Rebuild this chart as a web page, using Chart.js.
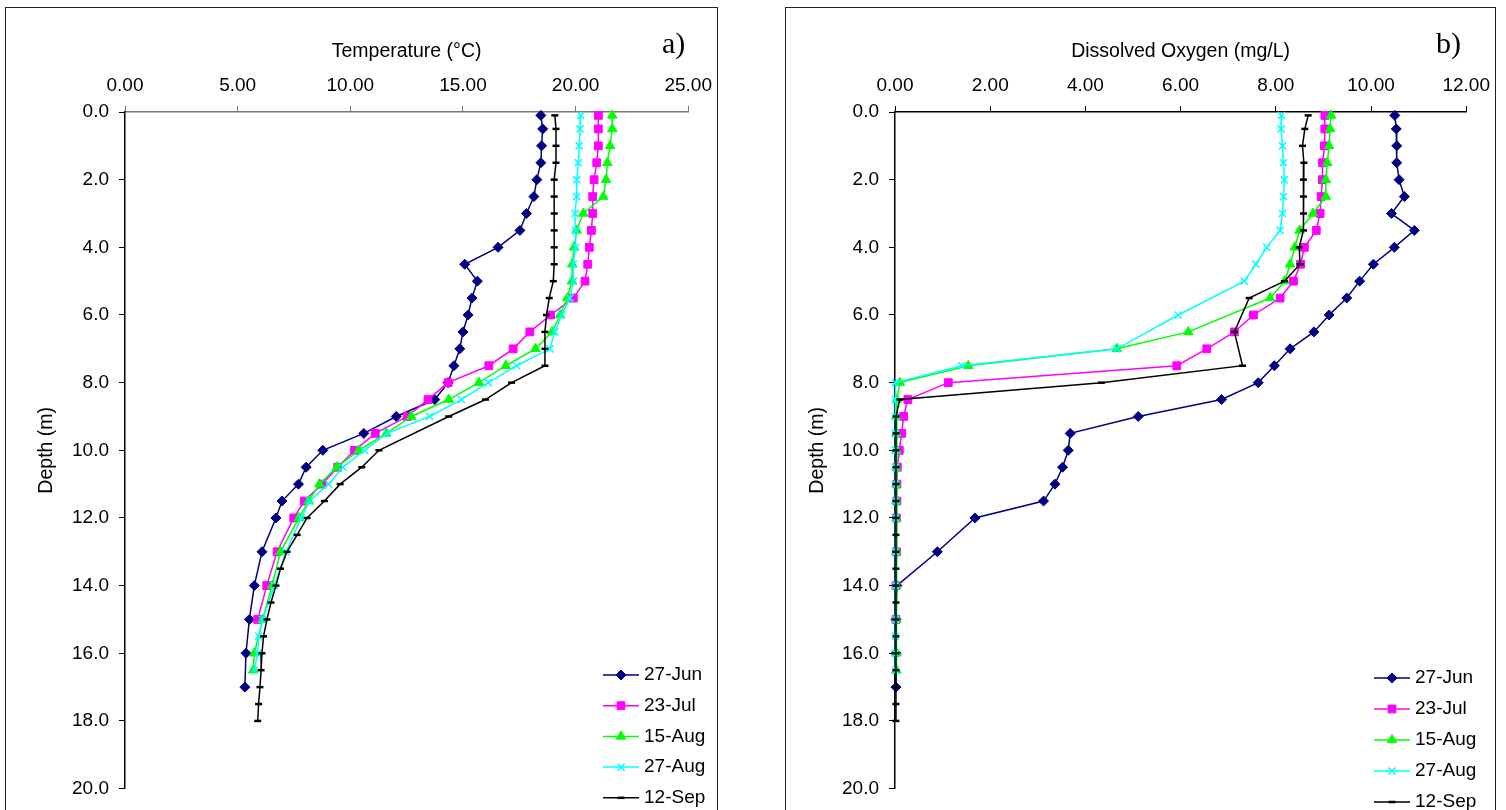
<!DOCTYPE html>
<html>
<head>
<meta charset="utf-8">
<script src="https://cdn.jsdelivr.net/npm/chart.js@4.4.1/dist/chart.umd.min.js"></script>
<style>
body { margin: 0; background: #fff; width: 1506px; height: 810px; overflow: hidden; position: relative; }
.box { position: absolute; top: 7px; height: 840px; border: 1.5px solid #222; box-sizing: border-box; }
#boxA { left: 5px; width: 713px; }
#boxB { left: 785px; width: 711px; }
canvas { position: absolute; top: 8px; }
#tempChart { left: 6px; }
#oxyChart { left: 786px; }
.tag { position: absolute; top: 26px; font-family: "Liberation Serif", "Times New Roman", serif; font-size: 30px; }
</style>
</head>
<body>
<div class="box" id="boxA"></div>
<div class="box" id="boxB"></div>
<canvas id="tempChart" width="715" height="802"></canvas>
<canvas id="oxyChart" width="713" height="802"></canvas>
<div class="tag" style="left:662px">a)</div>
<div class="tag" style="left:1436px">b)</div>
<script>
// ---- series names
var labels = ["27-Jun", "23-Jul", "15-Aug", "27-Aug", "12-Sep"];

// ---- a) Temperature (°C) profiles
var depthJunT = [0.1, 0.5, 1, 1.5, 2, 2.5, 3, 3.5, 4, 4.5, 5, 5.5, 6, 6.5, 7, 7.5, 8, 8.5, 9, 9.5, 10, 10.5, 11, 11.5, 12, 13, 14, 15, 16, 17];
var tempJun = [18.46, 18.54, 18.49, 18.46, 18.28, 18.15, 17.82, 17.53, 16.56, 15.08, 15.64, 15.4, 15.23, 15.0, 14.86, 14.6, 14.34, 13.75, 12.04, 10.6, 8.78, 8.04, 7.7, 6.97, 6.7, 6.08, 5.74, 5.52, 5.37, 5.32];

var depthJulT = [0.1, 0.5, 1, 1.5, 2, 2.5, 3, 3.5, 4, 4.5, 5, 5.5, 6, 6.5, 7, 7.5, 8, 8.5, 9, 9.5, 10, 10.5, 11, 11.5, 12, 13, 14, 15];
var tempJul = [21.01, 21.01, 21.01, 20.94, 20.82, 20.76, 20.76, 20.7, 20.61, 20.54, 20.42, 19.9, 18.89, 17.97, 17.23, 16.15, 14.34, 13.45, 12.53, 11.11, 10.19, 9.44, 8.75, 7.96, 7.49, 6.75, 6.29, 5.89];

var depthAug15T = [0.1, 0.5, 1, 1.5, 2, 2.5, 3, 3.5, 4, 4.5, 5, 5.5, 6, 6.5, 7, 7.5, 8, 8.5, 9, 9.5, 10, 10.5, 11, 11.5, 12, 13, 14, 15, 16, 16.5];
var tempAug15 = [21.63, 21.63, 21.53, 21.41, 21.35, 21.23, 20.34, 20.05, 19.93, 19.85, 19.84, 19.63, 19.31, 18.96, 18.22, 16.9, 15.71, 14.37, 12.71, 11.6, 10.38, 9.4, 8.63, 8.15, 7.72, 6.9, 6.53, 6.11, 5.74, 5.69];

var depthAug27T = [0.1, 0.5, 1, 1.5, 2, 2.5, 3, 3.5, 4, 4.5, 5, 5.5, 6, 6.5, 7, 7.5, 8, 8.5, 9, 9.5, 10, 10.5, 11, 11.5, 12, 13, 14, 15, 15.5, 16, 16.5];
var tempAug27 = [20.23, 20.2, 20.16, 20.12, 20.05, 20.05, 19.97, 20.0, 20.0, 19.9, 19.9, 19.75, 19.38, 19.08, 18.86, 17.38, 16.12, 14.93, 13.52, 11.62, 10.63, 9.67, 9.04, 8.19, 7.82, 7.15, 6.63, 6.11, 5.93, 5.89, 5.74];

var depthSepT = [0.1, 0.5, 1, 1.5, 2, 2.5, 3, 3.5, 4, 4.5, 5, 5.5, 6, 6.5, 7, 7.5, 8, 8.5, 9, 10, 10.5, 11, 11.5, 12, 12.5, 13, 13.5, 14, 14.5, 15, 15.5, 16, 16.5, 17, 17.5, 18];
var tempSep = [19.08, 19.13, 19.13, 19.13, 19.05, 19.05, 19.05, 19.05, 19.05, 19.05, 19.01, 18.83, 18.71, 18.64, 18.64, 18.64, 17.16, 16.0, 14.37, 11.27, 10.51, 9.55, 8.85, 8.08, 7.64, 7.19, 6.9, 6.7, 6.48, 6.3, 6.15, 6.08, 6.04, 5.99, 5.93, 5.89];

// ---- b) Dissolved Oxygen (mg/L) profiles
var depthJunO = [0.1, 0.5, 1, 1.5, 2, 2.5, 3, 3.5, 4, 4.5, 5, 5.5, 6, 6.5, 7, 7.5, 8, 8.5, 9, 9.5, 10, 10.5, 11, 11.5, 12, 13, 14, 15, 16, 17];
var oxyJun = [10.5, 10.53, 10.54, 10.54, 10.59, 10.7, 10.43, 10.91, 10.49, 10.05, 9.76, 9.49, 9.12, 8.8, 8.3, 7.97, 7.63, 6.86, 5.11, 3.68, 3.64, 3.52, 3.36, 3.12, 1.68, 0.89, 0.04, 0.02, 0.02, 0.02];

var depthJulO = [0.1, 0.5, 1, 1.5, 2, 2.5, 3, 3.5, 4, 4.5, 5, 5.5, 6, 6.5, 7, 7.5, 8, 8.5, 9, 9.5, 10, 10.5, 11, 11.5, 12, 13, 14, 15];
var oxyJul = [9.03, 9.03, 9.02, 8.98, 8.98, 8.95, 8.93, 8.85, 8.6, 8.52, 8.37, 8.09, 7.53, 7.13, 6.55, 5.92, 1.12, 0.27, 0.18, 0.14, 0.09, 0.05, 0.04, 0.04, 0.03, 0.03, 0.02, 0.02];

var depthAug15O = [0.1, 0.5, 1, 1.5, 2, 2.5, 3, 3.5, 4, 4.5, 5, 5.5, 6.5, 7, 7.5, 8, 8.5, 9, 9.5, 10, 10.5, 11, 11.5, 12, 13, 14, 15, 16, 16.5];
var oxyAug15 = [9.16, 9.14, 9.12, 9.08, 9.05, 9.05, 8.78, 8.5, 8.4, 8.3, 8.19, 7.88, 6.16, 4.66, 1.54, 0.1, 0.04, 0.03, 0.03, 0.03, 0.03, 0.03, 0.03, 0.03, 0.03, 0.03, 0.03, 0.03, 0.03];

var depthAug27O = [0.1, 0.5, 1, 1.5, 2, 2.5, 3, 3.5, 4, 4.5, 5, 6, 7, 7.5, 8, 8.5, 9, 9.5, 10, 10.5, 11, 11.5, 12, 13, 14, 15, 15.5, 16, 16.5];
var oxyAug27 = [8.12, 8.11, 8.14, 8.16, 8.18, 8.16, 8.14, 8.09, 7.81, 7.58, 7.34, 5.95, 4.66, 1.4, 0.01, 0.01, 0.01, 0.01, 0.01, 0.01, 0.01, 0.01, 0.01, 0.01, 0.01, 0.01, 0.01, 0.01, 0.01];

var depthSepO = [0.1, 0.5, 1, 1.5, 2, 2.5, 3, 3.5, 4, 4.5, 5, 5.5, 6.5, 7.5, 8, 8.5, 9, 9.5, 10, 10.5, 11, 11.5, 12, 12.5, 13, 13.5, 14, 14.5, 15, 15.5, 16, 16.5, 17, 17.5, 18];
var oxySep = [8.68, 8.61, 8.56, 8.59, 8.58, 8.58, 8.58, 8.58, 8.49, 8.51, 8.18, 7.44, 7.13, 7.3, 4.34, 0.1, 0.02, 0.02, 0.02, 0.02, 0.02, 0.02, 0.02, 0.02, 0.02, 0.02, 0.02, 0.02, 0.02, 0.02, 0.02, 0.02, 0.02, 0.02, 0.02];

// ---- axis ticks
var depthTicks = [0, 2, 4, 6, 8, 10, 12, 14, 16, 18, 20];
var tempTicks = [0, 5, 10, 15, 20, 25];
var oxyTicks = [0, 2, 4, 6, 8, 10, 12];

// marker look for each date (Excel defaults)
var looks = [
    { color: "#000080", style: "rectRot", r: 5, bw: 1 },
    { color: "#FF00FF", style: "rect", r: 5.5, bw: 1 },
    { color: "#00FF00", style: "triangle", r: 5.5, bw: 1 },
    { color: "#00FFFF", style: "crossRot", r: 5, bw: 1.5 },
    { color: "#000000", style: "line", r: 3.5, bw: 2.5 }
];

Chart.defaults.font.family = '"Liberation Sans", Arial, sans-serif';
Chart.defaults.color = "#000";

function pairs(xs, ys) {
    return xs.map(function (v, i) { return { x: v, y: ys[i] }; });
}

function buildSets(profiles) {
    return profiles.map(function (p, i) {
        var lk = looks[i];
        return {
            label: labels[i],
            data: pairs(p[1], p[0]),
            showLine: true,
            borderColor: lk.color,
            backgroundColor: lk.color,
            borderWidth: 1.5,
            pointStyle: lk.style,
            pointRadius: lk.r,
            pointBackgroundColor: lk.color,
            pointBorderColor: lk.color,
            pointBorderWidth: lk.bw,
            order: 10 - i,
            clip: false
        };
    });
}

// legend in the lower right corner of the plot area
var cornerLegend = {
    id: "cornerLegend",
    afterDraw: function (chart, args, opts) {
        var ctx = chart.ctx;
        ctx.save();
        ctx.font = '19px "Liberation Sans", Arial, sans-serif';
        ctx.textBaseline = "middle";
        chart.data.datasets.forEach(function (ds, i) {
            var y = opts.y + i * opts.gap;
            ctx.strokeStyle = ds.borderColor;
            ctx.lineWidth = 1.5;
            ctx.beginPath();
            ctx.moveTo(opts.x, y);
            ctx.lineTo(opts.x + 36, y);
            ctx.stroke();
            ctx.fillStyle = ds.pointBackgroundColor;
            ctx.strokeStyle = ds.pointBorderColor;
            ctx.lineWidth = ds.pointBorderWidth;
            if (Chart.helpers && Chart.helpers.drawPoint) {
                Chart.helpers.drawPoint(ctx, { pointStyle: ds.pointStyle, radius: ds.pointRadius, rotation: 0, borderWidth: ds.pointBorderWidth }, opts.x + 18, y);
            }
            ctx.fillStyle = "#000";
            ctx.fillText(ds.label, opts.x + 41, y);
        });
        ctx.restore();
    }
};

function profileChart(id, sets, c) {
    return new Chart(document.getElementById(id), {
        type: "scatter",
        data: { datasets: sets },
        plugins: [cornerLegend],
        options: {
            responsive: false,
            animation: false,
            events: [],
            layout: { padding: { left: 0, top: 0, right: 28, bottom: 15 } },
            plugins: {
                legend: { display: false },
                tooltip: { enabled: false },
                cornerLegend: c.legend
            },
            scales: {
                x: {
                    type: "linear",
                    position: "top",
                    min: c.xTicks[0],
                    max: c.xTicks[c.xTicks.length - 1],
                    afterBuildTicks: function (s) { s.ticks = c.xTicks.map(function (v) { return { value: v }; }); },
                    ticks: { callback: function (v) { return v.toFixed(2); }, padding: 9, font: { size: 19 }, maxRotation: 0, autoSkip: false },
                    grid: { drawOnChartArea: false, tickLength: 6, color: c.xColor, lineWidth: 1 },
                    border: { color: c.xColor, width: 1.5 },
                    title: { display: true, text: c.xTitle, font: { size: 19.5 }, padding: { top: 32, bottom: 0 } },
                    afterFit: function (s) { s.height = 104; }
                },
                y: {
                    type: "linear",
                    reverse: true,
                    min: 0,
                    max: 20,
                    afterBuildTicks: function (s) { s.ticks = depthTicks.map(function (v) { return { value: v }; }); },
                    ticks: { callback: function (v) { return v.toFixed(1); }, padding: 10, font: { size: 19 }, autoSkip: false },
                    grid: { drawOnChartArea: false, tickLength: 6, color: "#000", lineWidth: 1 },
                    border: { color: "#000", width: 1.5 },
                    title: { display: true, text: "Depth (m)", font: { size: 19.5 }, padding: { top: c.yTitlePad, bottom: 0 } },
                    afterFit: function (s) { s.width = c.yWidth; }
                }
            }
        }
    });
}

// a) Temperature
profileChart("tempChart", buildSets([
    [depthJunT, tempJun],
    [depthJulT, tempJul],
    [depthAug15T, tempAug15],
    [depthAug27T, tempAug27],
    [depthSepT, tempSep]
]), {
    xTicks: tempTicks,
    xTitle: "Temperature (°C)",
    xColor: "#777",
    yWidth: 119,
    yTitlePad: 29,
    legend: { x: 597, y: 667, gap: 30.7 }
});

// b) Dissolved Oxygen
profileChart("oxyChart", buildSets([
    [depthJunO, oxyJun],
    [depthJulO, oxyJul],
    [depthAug15O, oxyAug15],
    [depthAug27O, oxyAug27],
    [depthSepO, oxySep]
]), {
    xTicks: oxyTicks,
    xTitle: "Dissolved Oxygen (mg/L)",
    xColor: "#000",
    yWidth: 109,
    yTitlePad: 20,
    legend: { x: 588, y: 670, gap: 31 }
});
</script>
</body>
</html>
